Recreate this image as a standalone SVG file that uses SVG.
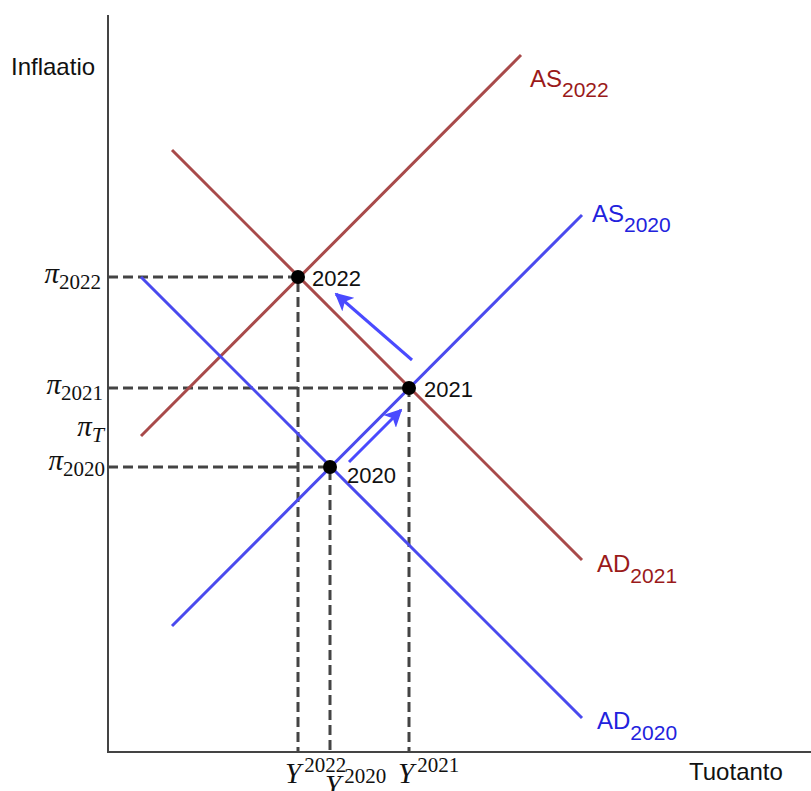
<svg xmlns="http://www.w3.org/2000/svg" width="811" height="791" viewBox="0 0 811 791">
<defs>
<style>
.ax{stroke:#444;stroke-width:2;fill:none}
.dash{stroke:#444;stroke-width:3;stroke-dasharray:10 5;fill:none}
.red{stroke:#a84a4a;stroke-width:3;fill:none}
.blue{stroke:#4a4aee;stroke-width:3;fill:none}
.arr{stroke:#4a4aff;stroke-width:3;fill:none}
.sans{font-family:"Liberation Sans",Arial,sans-serif;font-size:22px}
.lbl{font-family:"Liberation Sans",Arial,sans-serif;font-size:24px}
.sub{font-size:21px}
.math{font-family:"Liberation Serif","DejaVu Serif",serif;font-size:29px;fill:#111}
.msub{font-size:21px;font-style:normal}
.tr{fill:#9a1a1a}
.tb{fill:#2222dd}
</style>
<marker id="ah" viewBox="0 0 10 10" refX="9" refY="5" markerWidth="6" markerHeight="6" orient="auto" markerUnits="strokeWidth">
<path d="M0,0 L10,5 L0,10 L2.5,5 Z" fill="#4a4aff"/>
</marker>
</defs>
<rect width="811" height="791" fill="#fff"/>
<g id="axes">
<line class="ax" x1="108" y1="15" x2="108" y2="752"/>
<line class="ax" x1="107" y1="752" x2="811" y2="752"/>
<text class="lbl" x="11" y="75" fill="#111">Inflaatio</text>
<text class="lbl" x="689" y="780" fill="#111">Tuotanto</text>
</g>
<g id="connectors">
<path class="dash" d="M108,277 H298 V752"/>
<path class="dash" d="M108,388 H409 V752"/>
<path class="dash" d="M108,467 H330 V752"/>
<line class="red" x1="141" y1="436" x2="521" y2="55"/>
<line class="red" x1="172" y1="150" x2="582" y2="560"/>
<line class="blue" x1="172" y1="626" x2="582" y2="215"/>
<line class="blue" x1="141" y1="277" x2="582" y2="718"/>
<line class="arr" x1="349" y1="462" x2="401" y2="410" marker-end="url(#ah)"/>
<line class="arr" x1="412" y1="360" x2="336" y2="294" marker-end="url(#ah)"/>
</g>
<g id="curve-labels">
<text class="lbl tr" x="530" y="87">AS<tspan class="sub" dy="10">2022</tspan></text>
<text class="lbl tb" x="592" y="222">AS<tspan class="sub" dy="10">2020</tspan></text>
<text class="lbl tr" x="597" y="572">AD<tspan class="sub" dy="11">2021</tspan></text>
<text class="lbl tb" x="597" y="729">AD<tspan class="sub" dy="11">2020</tspan></text>
</g>
<g id="p2022">
<circle cx="298" cy="277" r="7" fill="#000"/>
<text class="sans" x="312" y="286" fill="#111">2022</text>
</g>
<g id="p2021">
<circle cx="409" cy="388" r="7" fill="#000"/>
<text class="sans" x="424" y="397" fill="#111">2021</text>
</g>
<g id="p2020">
<circle cx="330" cy="467" r="7" fill="#000"/>
<text class="sans" x="347" y="483" fill="#111">2020</text>
</g>
<g id="y-labels">
<text class="math" x="101" y="283" text-anchor="end"><tspan font-style="italic">π</tspan><tspan class="msub" dy="6">2022</tspan></text>
<text class="math" x="103" y="394" text-anchor="end"><tspan font-style="italic">π</tspan><tspan class="msub" dy="6">2021</tspan></text>
<text class="math" x="104" y="436" text-anchor="end"><tspan font-style="italic">π</tspan><tspan font-style="italic" font-size="22" dy="6">T</tspan></text>
<text class="math" x="105" y="470" text-anchor="end"><tspan font-style="italic">π</tspan><tspan class="msub" dy="6">2020</tspan></text>
</g>
<g id="x-labels">
<text class="math" x="285" y="783"><tspan font-style="italic">Y</tspan><tspan class="msub" dx="3" dy="-11">2022</tspan></text>
<text class="math" x="325" y="795"><tspan font-style="italic">Y</tspan><tspan class="msub" dx="3" dy="-12">2020</tspan></text>
<text class="math" x="398" y="783"><tspan font-style="italic">Y</tspan><tspan class="msub" dx="3" dy="-11">2021</tspan></text>
</g>
</svg>
